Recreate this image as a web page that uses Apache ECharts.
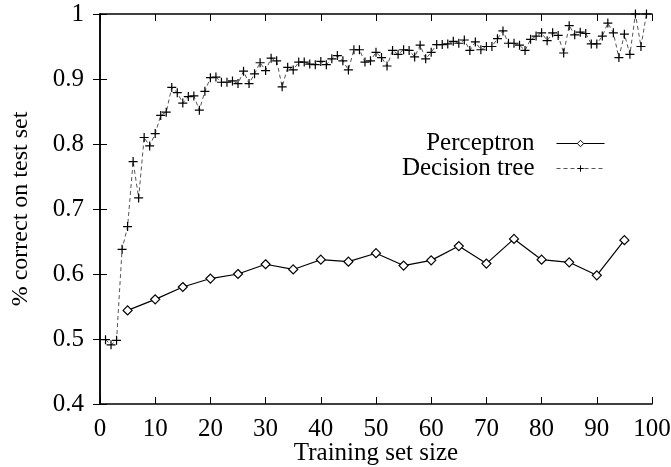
<!DOCTYPE html>
<html>
<head>
<meta charset="utf-8">
<script src="https://cdn.jsdelivr.net/npm/echarts@6/dist/echarts.min.js"></script>
<style>
  html, body { margin: 0; padding: 0; background: #fff; }
  #chart { width: 671px; height: 467px; }
</style>
</head>
<body>
<div id="chart"></div>
<script>
// perceptron: every 5 examples
const percX = [5, 10, 15, 20, 25, 30, 35, 40, 45, 50, 55, 60, 65, 70, 75, 80, 85, 90, 95]
const percY = [0.544, 0.561, 0.580, 0.593, 0.600, 0.615, 0.607, 0.622, 0.619, 0.632,
  0.613, 0.621, 0.643, 0.616, 0.654, 0.622, 0.618, 0.598, 0.652]

// decision tree: 1..99
const treeX = Array.from({ length: 99 }, (_, i) => i + 1)
const treeY = [
  0.499, 0.491, 0.498, 0.638, 0.673, 0.773, 0.717, 0.810, 0.797, 0.816,
  0.844, 0.849, 0.887, 0.879, 0.863, 0.873, 0.874, 0.852, 0.881, 0.902,
  0.903, 0.895, 0.895, 0.897, 0.893, 0.912, 0.893, 0.908, 0.925, 0.913,
  0.932, 0.928, 0.888, 0.918, 0.914, 0.926, 0.926, 0.923, 0.922, 0.927,
  0.922, 0.931, 0.936, 0.928, 0.914, 0.945, 0.945, 0.926, 0.928, 0.941,
  0.933, 0.920, 0.944, 0.938, 0.945, 0.944, 0.934, 0.952, 0.931, 0.941,
  0.953, 0.953, 0.954, 0.958, 0.955, 0.960, 0.944, 0.957, 0.945, 0.950,
  0.950, 0.962, 0.974, 0.955, 0.955, 0.952, 0.944, 0.961, 0.966, 0.971,
  0.959, 0.971, 0.967, 0.940, 0.982, 0.968, 0.972, 0.970, 0.954, 0.954,
  0.966, 0.986, 0.971, 0.933, 0.969, 0.938, 1.000, 0.950, 1.000
]

const font = 'Liberation Serif'
const fs = 25
const plus = 'path://M0,5L10,5M5,0L5,10'

const chart = echarts.init(document.getElementById('chart'))

const frameAxis = {
  axisLine: { show: true, lineStyle: { color: '#000', width: 1.5 } },
  axisTick: { show: true, inside: true, length: 7, lineStyle: { color: '#000', width: 1 } },
  splitLine: { show: false }
}

const legendBase = {
  orient: 'vertical',
  align: 'right',
  right: 66,
  padding: 0,
  itemWidth: 48,
  itemHeight: 8,
  lineStyle: { width: 1 },
  itemStyle: { borderWidth: 1 },
  textStyle: { fontFamily: font, fontSize: fs, color: '#000', padding: [0, 17, 0, 0] }
}

chart.setOption({
  animation: false,
  backgroundColor: '#fff',
  grid: { left: 100, right: 19, top: 14, bottom: 63, containLabel: false, outerBoundsMode: 'none' },
  legend: [
    Object.assign({}, legendBase, { top: 131, data: ['Perceptron'] }),
    Object.assign({}, legendBase, { top: 156, data: ['Decision tree'] })
  ],
  xAxis: [
    Object.assign({}, frameAxis, {
      type: 'value', min: 0, max: 100, interval: 10,
      name: 'Training set size',
      nameLocation: 'middle',
      nameGap: 37,
      nameMoveOverlap: false,
      nameTextStyle: { fontFamily: font, fontSize: fs, color: '#000' },
      axisLabel: { fontFamily: font, fontSize: fs, color: '#000', margin: 13 }
    }),
    Object.assign({}, frameAxis, {
      type: 'value', min: 0, max: 100, interval: 10, position: 'top',
      axisLabel: { show: false }
    })
  ],
  yAxis: [
    Object.assign({}, frameAxis, {
      type: 'value', min: 0.4, max: 1, interval: 0.1,
      name: '% correct on test set',
      nameLocation: 'middle',
      nameGap: 67,
      nameMoveOverlap: false,
      nameTextStyle: { fontFamily: font, fontSize: fs - 1, color: '#000' },
      axisLabel: {
        fontFamily: font, fontSize: fs, color: '#000', margin: 16,
        formatter: v => String(+v.toFixed(1))
      }
    }),
    Object.assign({}, frameAxis, {
      type: 'value', min: 0.4, max: 1, interval: 0.1, position: 'right',
      axisLabel: { show: false }
    })
  ],
  series: [
    {
      name: 'Perceptron',
      type: 'line',
      data: percX.map((x, i) => [x, percY[i]]),
      symbol: 'diamond',
      symbolSize: 9,
      showAllSymbol: true,
      lineStyle: { color: '#000', width: 1.2 },
      itemStyle: { color: '#fff', borderColor: '#000', borderWidth: 1.2 }
    },
    {
      name: 'Decision tree',
      type: 'line',
      data: treeX.map((x, i) => [x, treeY[i]]),
      symbol: plus,
      symbolSize: 9,
      showAllSymbol: true,
      lineStyle: { color: '#555', width: 1, type: [4, 3] },
      itemStyle: { color: '#000', borderColor: '#000', borderWidth: 1.2 }
    }
  ]
})
</script>
</body>
</html>
